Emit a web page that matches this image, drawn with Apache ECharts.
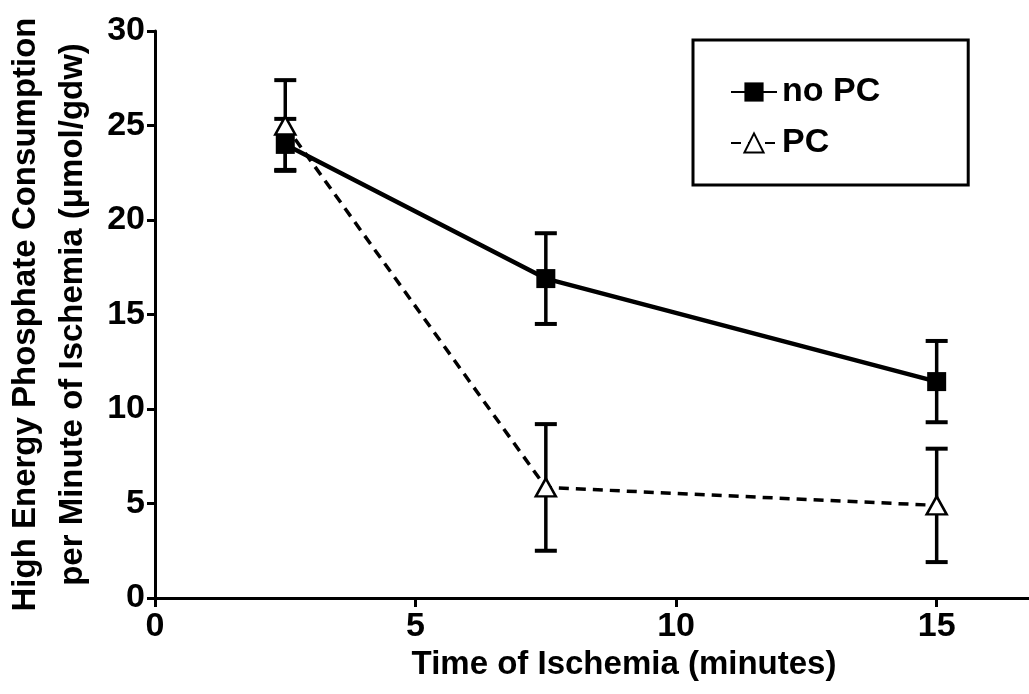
<!DOCTYPE html>
<html><head><meta charset="utf-8">
<script src="https://cdn.jsdelivr.net/npm/echarts@6/dist/echarts.min.js"></script>
<style>html,body{margin:0;padding:0;background:#fff}#c{width:1029px;height:694px}</style>
</head><body><div id="c"></div>
<script>
var times = [2.5, 7.5, 15];
var noPcMean = [24.0, 16.9, 11.45];
var noPcErr = [1.35, 2.4, 2.15];
var pcMean = [25.0, 5.85, 4.9];
var pcErr = [2.4, 3.35, 3.0];
var xTicks = [0, 5, 10, 15];
var yTicks = [0, 5, 10, 15, 20, 25, 30];
var seriesNames = ['no PC', 'PC'];
var xTitle = 'Time of Ischemia (minutes)';
var yTitle = 'High Energy Phosphate Consumption\nper Minute of Ischemia (\u03bcmol/gdw)';

var FONT = '"Liberation Sans", Arial, sans-serif';

function pairs(xs, ys) { return xs.map(function (x, i) { return [x, ys[i]]; }); }
function errData(xs, m, e) { return xs.map(function (x, i) { return [x, m[i] - e[i], m[i] + e[i]]; }); }

function errRender(params, api) {
  var x = api.value(0), lo = api.value(1), hi = api.value(2);
  var pLo = api.coord([x, lo]), pHi = api.coord([x, hi]);
  var hw = 11;
  var st = { stroke: '#000', lineWidth: 3.5 };
  var cap = { stroke: '#000', lineWidth: 4 };
  return {
    type: 'group',
    children: [
      { type: 'line', shape: { x1: pLo[0], y1: pLo[1], x2: pHi[0], y2: pHi[1] }, style: st },
      { type: 'line', shape: { x1: pLo[0] - hw, y1: pLo[1], x2: pLo[0] + hw, y2: pLo[1] }, style: cap },
      { type: 'line', shape: { x1: pHi[0] - hw, y1: pHi[1], x2: pHi[0] + hw, y2: pHi[1] }, style: cap }
    ]
  };
}

var chart = echarts.init(document.getElementById('c'), null, { renderer: 'canvas' });
chart.setOption({
  animation: false,
  backgroundColor: '#fff',
  textStyle: { fontFamily: FONT, fontWeight: 'bold', color: '#000' },
  grid: { left: 155, top: 31, width: 938, height: 567, outerBoundsMode: 'none', containLabel: false },
  legend: {
    orient: 'vertical',
    left: 693, top: 40,
    data: seriesNames,
    itemWidth: 46, itemHeight: 24, itemGap: 17,
    padding: [35, 88, 25, 37],
    borderColor: '#000', borderWidth: 3,
    textStyle: { fontFamily: FONT, fontWeight: 'bold', fontSize: 34, color: '#000' }
  },
  xAxis: {
    type: 'value', min: 0, max: 18, interval: 5,
    name: xTitle, nameLocation: 'middle', nameGap: 50,
    nameTextStyle: { fontFamily: FONT, fontWeight: 'bold', fontSize: 33, color: '#000' },
    axisLine: { show: true, onZero: false, lineStyle: { color: '#000', width: 3 } },
    axisTick: { show: true, inside: false, length: 9, lineStyle: { color: '#000', width: 3 } },
    axisLabel: {
      margin: 12, fontFamily: FONT, fontWeight: 'bold', fontSize: 34, color: '#000',
      formatter: function (v) { return xTicks.indexOf(v) >= 0 ? String(v) : ''; }
    },
    splitLine: { show: false }
  },
  yAxis: {
    type: 'value', min: 0, max: 30, interval: 5,
    name: yTitle, nameLocation: 'middle', nameGap: 54, nameRotate: 90,
    nameTextStyle: { fontFamily: FONT, fontWeight: 'bold', fontSize: 33, lineHeight: 47, color: '#000' },
    axisLine: { show: true, onZero: false, lineStyle: { color: '#000', width: 3 } },
    axisTick: { show: true, inside: false, length: 8, lineStyle: { color: '#000', width: 3 } },
    axisLabel: {
      margin: 10, fontFamily: FONT, fontWeight: 'bold', fontSize: 34, color: '#000',
      formatter: function (v) { return yTicks.indexOf(v) >= 0 ? String(v) : ''; }
    },
    splitLine: { show: false }
  },
  series: [
    { type: 'custom', name: 'errNoPc', renderItem: errRender, data: errData(times, noPcMean, noPcErr), z: 1, silent: true },
    { type: 'custom', name: 'errPc', renderItem: errRender, data: errData(times, pcMean, pcErr), z: 1, silent: true },
    {
      type: 'line', name: seriesNames[0], data: pairs(times, noPcMean), z: 3,
      symbol: 'rect', symbolSize: 19,
      lineStyle: { color: '#000', width: 4.5, type: 'solid' },
      itemStyle: { color: '#000', borderColor: '#000', borderWidth: 0 }
    },
    {
      type: 'line', name: seriesNames[1], data: pairs(times, pcMean), z: 4,
      symbol: 'triangle', symbolSize: [20, 18],
      lineStyle: { color: '#000', width: 3.5, type: [10, 7] },
      itemStyle: { color: '#fff', borderColor: '#000', borderWidth: 2.5 }
    }
  ]
});
</script></body></html>
